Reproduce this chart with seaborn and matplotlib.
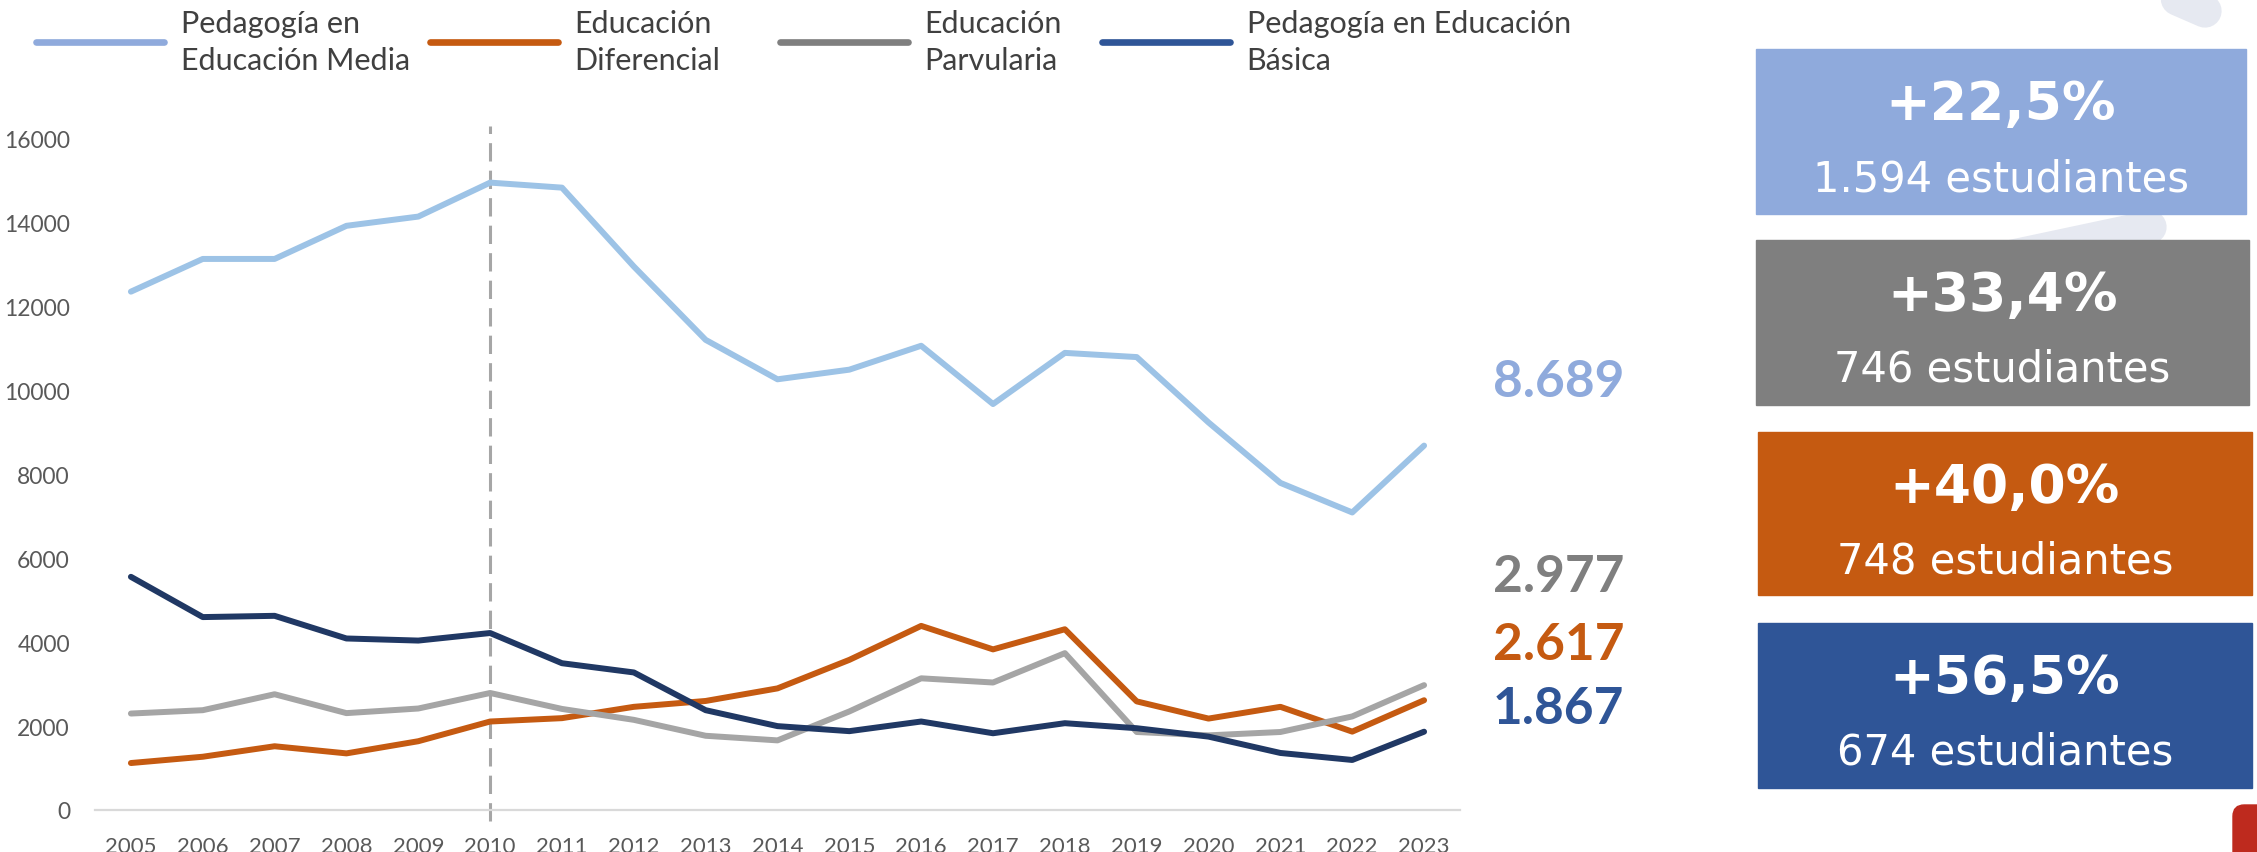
import matplotlib.pyplot as plt
from matplotlib.lines import Line2D
from matplotlib.patches import Rectangle, FancyBboxPatch
import pandas as pd
import seaborn as sns

# datos
years = list(range(2005, 2024))
media = [12360, 13140, 13140, 13930, 14150, 14960, 14840, 12960, 11210, 10270,
         10500, 11070, 9680, 10900, 10800, 9240, 7800, 7095, 8689]
diferencial = [1120, 1270, 1520, 1350, 1640, 2110, 2190, 2460, 2600, 2900,
               3580, 4390, 3830, 4310, 2590, 2180, 2460, 1869, 2617]
parvularia = [2300, 2380, 2760, 2310, 2420, 2790, 2410, 2150, 1770, 1660,
              2350, 3140, 3040, 3740, 1860, 1780, 1860, 2231, 2977]
basica = [5560, 4600, 4630, 4090, 4040, 4220, 3500, 3280, 2380, 2000,
          1880, 2110, 1830, 2070, 1950, 1750, 1360, 1193, 1867]

series = ["Pedagogía en Educación Media", "Educación Diferencial",
          "Educación Parvularia", "Pedagogía en Educación Básica"]
legend_labels = ["Pedagogía en\nEducación Media", "Educación\nDiferencial",
                 "Educación\nParvularia", "Pedagogía en Educación\nBásica"]
pct_change = [22.5, 33.4, 40.0, 56.5]
delta_students = [1594, 746, 748, 674]
box_series = ["Pedagogía en Educación Media", "Educación Parvularia",
              "Educación Diferencial", "Pedagogía en Educación Básica"]

line_colors = {"Pedagogía en Educación Media": "#9DC3E6",
               "Educación Diferencial": "#C55A11",
               "Educación Parvularia": "#A5A5A5",
               "Pedagogía en Educación Básica": "#203864"}
key_colors = {"Pedagogía en Educación Media": "#8FAADC",
              "Educación Diferencial": "#C55A11",
              "Educación Parvularia": "#7F7F7F",
              "Pedagogía en Educación Básica": "#2F5597"}

df = pd.DataFrame({"Año": years, series[0]: media, series[1]: diferencial,
                   series[2]: parvularia, series[3]: basica})
df = df.melt(id_vars="Año", var_name="Carrera", value_name="Matrícula")

sns.set_theme(style="white")
plt.rcParams['font.family'] = ['Lato', 'DejaVu Sans']

W, H = 2257, 853
fig = plt.figure(figsize=(W / 100, H / 100), dpi=100)


def fx(x):
    return x / W


def fy(y):
    return 1 - y / H


ax = fig.add_axes([fx(95), fy(811), fx(1460) - fx(95), fy(140) - fy(811)])

# formas de fondo de la diapositiva
fig.add_artist(Line2D([fx(2120), fx(2205)], [fy(-25), fy(12)], color="#E6E9F1",
                      lw=24, solid_capstyle="round", zorder=0))
fig.add_artist(Line2D([fx(1990), fx(2150)], [fy(262), fy(228)], color="#E6E9F1",
                      lw=24, solid_capstyle="round", zorder=0))

sns.lineplot(data=df, x="Año", y="Matrícula", hue="Carrera", hue_order=series,
             palette=line_colors, linewidth=4.3, legend=False, ax=ax)

ax.axvline(2010, ymin=-0.017, ymax=1.02, color="#A6A6A6", lw=2.2,
           dashes=(6, 3), clip_on=False, zorder=1)

ax.set_xlim(2004.5, 2023.5)
ax.set_ylim(0, 16000)
ax.set_xticks(years)
ax.set_yticks(range(0, 16001, 2000))
ax.tick_params(axis="x", labelsize=16, labelcolor="#595959", length=0, pad=19)
ax.tick_params(axis="y", labelsize=16.5, labelcolor="#595959", length=0, pad=18)
ax.set_xlabel("")
ax.set_ylabel("")
for s in ["top", "right", "left"]:
    ax.spines[s].set_visible(False)
ax.spines["bottom"].set_color("#D9D9D9")
ax.spines["bottom"].set_linewidth(1.6)

# leyenda
handle_x = [36, 430, 780, 1102]
for name, lab, hx in zip(series, legend_labels, handle_x):
    h = Line2D([], [], color=key_colors[name], lw=4.8)
    fig.legend([h], [lab], loc="upper left", bbox_to_anchor=(fx(hx), fy(10)),
               frameon=False, fontsize=22, handlelength=128 / 30.6,
               handletextpad=0.55, borderpad=0, borderaxespad=0)
for t in fig.legends:
    for txt in t.get_texts():
        txt.set_color("#404040")
        txt.set_linespacing(1.4)

# valores finales
final_y = {series[0]: 383, series[2]: 577, series[1]: 646, series[3]: 710}
for name, yy in final_y.items():
    v = df[(df["Carrera"] == name) & (df["Año"] == 2023)]["Matrícula"].iloc[0]
    fig.text(fx(1493), fy(yy), f"{v:,}".replace(",", "."), color=key_colors[name],
             fontsize=37, fontweight="bold", va="center", ha="left")

# cajas de variacion
boxes = [(1756, 2246, 50, 215), (1756, 2249, 241, 406),
         (1758, 2252, 433, 596), (1758, 2252, 624, 789)]
for name, p, d, (x0, x1, y0, y1) in zip(box_series, pct_change, delta_students, boxes):
    fig.patches.append(Rectangle((fx(x0), fy(y1)), fx(x1) - fx(x0), fy(y0) - fy(y1),
                                 transform=fig.transFigure, color=key_colors[name],
                                 zorder=1))
    cx = fx((x0 + x1) / 2)
    fig.text(cx, fy(y0 + 55), f"+{p:.1f}%".replace(".", ","), color="white",
             fontsize=38.5, fontweight="bold", ha="center", va="center",
             family="DejaVu Sans")
    fig.text(cx, fy(y0 + 129), f"{d:,}".replace(",", ".") + " estudiantes",
             color="white", fontsize=30, ha="center", va="center",
             family="DejaVu Sans")

fig.patches.append(FancyBboxPatch((fx(2233), fy(870)), fx(60), fy(806) - fy(870),
                                  boxstyle="round,pad=0,rounding_size=0.005",
                                  transform=fig.transFigure, color="#BE2A1E",
                                  mutation_aspect=W / H))

fig.savefig("out.png", dpi=100)
